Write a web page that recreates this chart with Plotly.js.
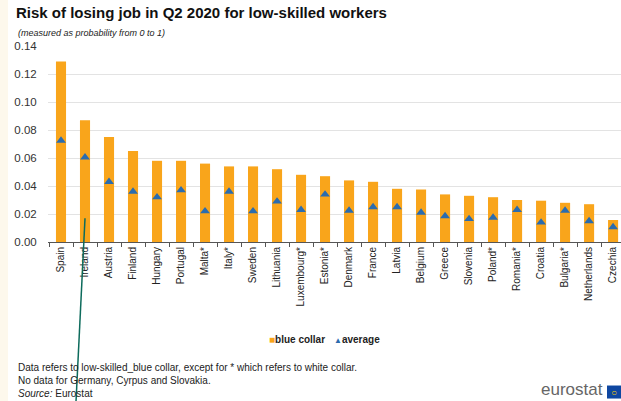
<!DOCTYPE html>
<html>
<head>
<meta charset="utf-8">
<script src="https://cdn.plot.ly/plotly-3.0.1.min.js"></script>
<style>
html,body{margin:0;padding:0;background:#fff;}
#chart{width:621px;height:401px;}
</style>
</head>
<body>
<div id="chart"></div>
<script>
var countries = ["Spain","Ireland","Austria","Finland","Hungary","Portugal","Malta*","Italy*","Sweden","Lithuania","Luxembourg*","Estonia*","Denmark","France","Latvia","Belgium","Greece","Slovenia","Poland*","Romania*","Croatia","Bulgaria*","Netherlands","Czechia"];
var blueCollar = [0.129,0.087,0.075,0.065,0.058,0.058,0.056,0.054,0.054,0.052,0.048,0.047,0.044,0.043,0.038,0.0375,0.034,0.033,0.032,0.030,0.0295,0.028,0.027,0.0157];
var average = [0.0725,0.0605,0.043,0.036,0.032,0.037,0.022,0.036,0.022,0.029,0.023,0.034,0.0225,0.025,0.025,0.021,0.0185,0.0165,0.0175,0.023,0.014,0.0225,0.015,0.0107];
var yTicks = [0,0.02,0.04,0.06,0.08,0.10,0.12,0.14];

var orange = "#f9a51b";
var blue = "#2b6cae";

var traces = [
  {type:"bar", name:"blue collar", x:countries, y:blueCollar, marker:{color:orange}, showlegend:false, hoverinfo:"x+y"},
  {type:"scatter", mode:"markers", name:"average", x:countries, y:average,
   marker:{symbol:"triangle-up", size:8.5, color:blue}, showlegend:false, cliponaxis:false}
];

// plot area geometry in pixels (for overlay conversions)
var L = 48, W = 573, T = 46, H = 195.7;
function px(x){ return (x - L) / W; }
function py(y){ return (T + H - y) / H; }

var layout = {
  width:621, height:401,
  margin:{l:L, r:0, t:T, b:401-T-H, pad:0},
  paper_bgcolor:"#ffffff", plot_bgcolor:"#ffffff",
  font:{family:"Liberation Sans, Arial, sans-serif", color:"#222"},
  bargap:0.58,
  xaxis:{
    type:"category",
    range:[-0.542, 23.33],
    tickangle:-90,
    tickfont:{size:10, color:"#222"},
    ticks:"outside", tickson:"boundaries", ticklen:4, tickcolor:"#555", tickwidth:1,
    showline:true, linecolor:"#555", linewidth:1,
    showgrid:false, fixedrange:true
  },
  yaxis:{
    range:[0,0.14],
    tickvals:yTicks, tickformat:".2f",
    tickfont:{size:11.5, color:"#333"},
    showgrid:true, gridcolor:"#e3e3e3", gridwidth:1,
    zeroline:false, showline:false, ticks:"outside", ticklen:8, tickcolor:"rgba(0,0,0,0)",
    fixedrange:true
  },
  title:{text:"<b>Risk of losing job in Q2 2020 for low-skilled workers</b>",
    font:{size:15, color:"#111", family:"Liberation Sans, Arial, sans-serif"},
    x:16/621, xanchor:"left", y:1-13/401, yanchor:"middle"},
  shapes:[
    {type:"rect", xref:"paper", yref:"paper", x0:px(0), x1:px(8), y0:py(401), y1:py(0),
     fillcolor:"#fdf8ec", line:{width:0}, layer:"below"},
    {type:"rect", xref:"paper", yref:"paper", x0:px(607), x1:px(621), y0:py(398), y1:py(385),
     fillcolor:"#0e47a1", line:{width:0}},
    {type:"line", xref:"paper", yref:"paper", x0:px(76), y0:py(401), x1:px(85), y1:py(218),
     line:{color:"#0d6b5c", width:1.5}}
  ],
  annotations:[
    {xref:"paper", yref:"paper", x:px(16), y:py(33), xanchor:"left", yanchor:"middle", showarrow:false,
     text:"<i>(measured as probability from 0 to 1)</i>", font:{size:9, color:"#222"}},
    {xref:"paper", yref:"paper", x:px(267), y:py(339), xanchor:"left", yanchor:"middle", showarrow:false,
     text:"<span style='color:"+orange+"'>■</span><b>blue collar</b>", font:{size:10, color:"#222"}},
    {xref:"paper", yref:"paper", x:px(332), y:py(339), xanchor:"left", yanchor:"middle", showarrow:false,
     text:"<span style='color:"+blue+";font-size:8px'>▲</span><b>average</b>", font:{size:10, color:"#222"}},
    {xref:"paper", yref:"paper", x:px(16), y:py(367), xanchor:"left", yanchor:"middle", showarrow:false,
     text:"Data refers to low-skilled_blue collar, except for * which refers to white collar.", font:{size:10, color:"#222"}},
    {xref:"paper", yref:"paper", x:px(16), y:py(380), xanchor:"left", yanchor:"middle", showarrow:false,
     text:"No data for Germany, Cyrpus and Slovakia.", font:{size:10, color:"#222"}},
    {xref:"paper", yref:"paper", x:px(16), y:py(393), xanchor:"left", yanchor:"middle", showarrow:false,
     text:"<i>Source:</i> Eurostat", font:{size:10, color:"#222"}},
    {xref:"paper", yref:"paper", x:px(605), y:py(389), xanchor:"right", yanchor:"middle", showarrow:false,
     text:"eurostat", font:{size:17, color:"#666"}},
    {xref:"paper", yref:"paper", x:px(614), y:py(391.5), xanchor:"center", yanchor:"middle", showarrow:false,
     text:"○", font:{size:10, color:"#f4d000"}}
  ]
};

Plotly.newPlot("chart", traces, layout, {displayModeBar:false, staticPlot:true});
</script>
</body>
</html>
